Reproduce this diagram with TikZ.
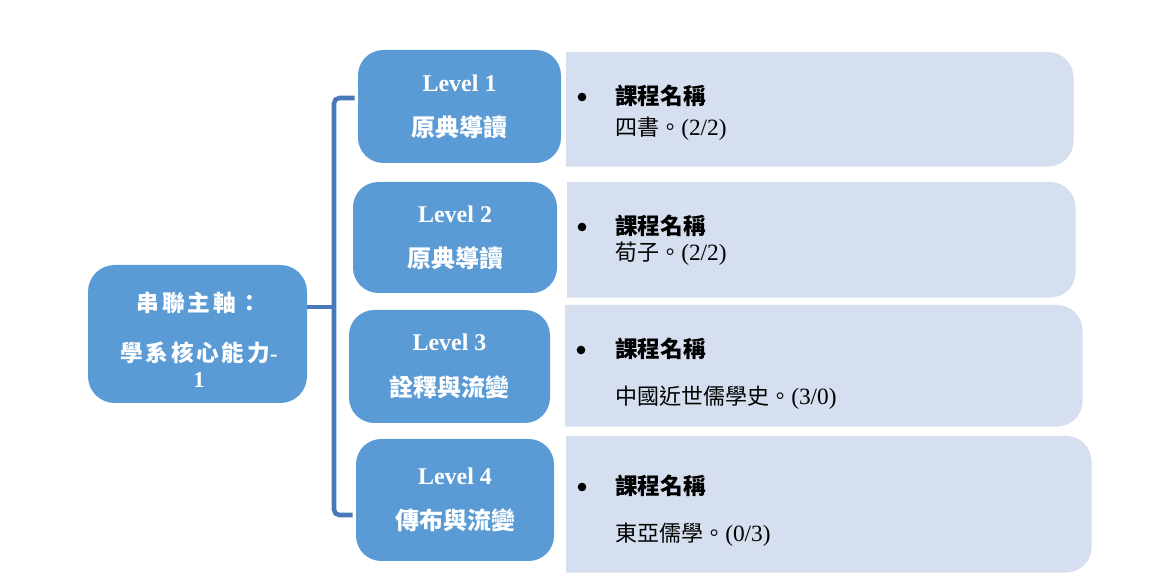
\documentclass[tikz,border=0pt]{standalone}
\usepackage{fontspec}
\setmainfont{Liberation Serif}
\newfontfamily\cjk{Noto Sans CJK TC}
\newfontfamily\cjkwide{Noto Sans CJK TC}[LetterSpace=12]
\usetikzlibrary{calc}
\definecolor{lvblue}{RGB}{91,155,213}
\definecolor{brblue}{RGB}{72,122,186}
\definecolor{cfill}{RGB}{214,223,239}
\newcommand\cj[1]{{\cjk #1}}
\newcommand\cjw[1]{{\cjkwide #1}}
\tikzset{
  lvbox/.style={fill=lvblue, rounded corners=19pt, text=white, align=center,
    font=\bfseries\fontsize{18}{22}\selectfont, inner sep=0pt},
  mainbox/.style={fill=lvblue, rounded corners=20pt, inner sep=0pt},
  maintext/.style={text=white, align=center, inner sep=0pt,
    font=\bfseries\fontsize{17}{19.5}\selectfont},
  cbox/.style={inner sep=0pt, anchor=north west},
  cshape/.style={fill=cfill},
  bul/.style={circle, fill=black, inner sep=0pt, minimum size=6.5pt},
  ctitle/.style={anchor=base west, inner sep=0pt, font=\cjk\bfseries\fontsize{17}{19}\selectfont},
  ccourse/.style={anchor=base west, inner sep=0pt, font=\fontsize{17.5}{20}\selectfont},
  brace/.style={draw=brblue, line width=3.4pt, rounded corners=4pt}
}
\newcommand\cc[1]{{\cjk\fontsize{16.5}{19}\selectfont #1}}
\newcommand\rightround[1]{%
  \fill[cshape] (#1.south west) -- (#1.north west) -- (#1.north)
    [rounded corners=19pt] -- (#1.north east) -- (#1.south east) -- (#1.south)
    [sharp corners] -- cycle;}
\begin{document}
\begin{tikzpicture}[x=0.75pt,y=-0.75pt]
\useasboundingbox (0,0) rectangle (1164,580);

% content boxes
\node[cbox, minimum width=380.25pt, minimum height=85.5pt] (C1) at (566,52) {};
\rightround{C1}
\node[cbox, minimum width=381pt, minimum height=86.25pt] (C2) at (567,182) {};
\rightround{C2}
\node[cbox, minimum width=387.75pt, minimum height=90.75pt] (C3) at (565,305) {};
\rightround{C3}
\node[cbox, minimum width=393.75pt, minimum height=102pt] (C4) at (566,436) {};
\rightround{C4}

% level boxes
\node[lvbox, minimum width=152.25pt, minimum height=84.75pt] (L1) at (459.5,106.5)
  {Level 1\\[12pt]\cj{原典導讀}};
\node[lvbox, minimum width=153pt, minimum height=83.25pt] (L2) at (455,237.5)
  {Level 2\\[12pt]\cj{原典導讀}};
\node[lvbox, minimum width=150.75pt, minimum height=84.75pt] (L3) at (449.5,366.5)
  {Level 3\\[12pt]\cj{詮釋與流變}};
\node[lvbox, minimum width=148.5pt, minimum height=91.5pt] (L4) at (455,500)
  {Level 4\\[12pt]\cj{傳布與流變}};

% main box
\node[mainbox, minimum width=164.25pt, minimum height=103.5pt] (M) at (197.5,334) {};
\node[maintext] (Mt) at (199,340) {\cjw{串聯主軸：}\\[18pt]\cjw{學系核心能力}-\\1};

% bracket
\coordinate (bt) at ($(L1.west)+(-3,-8.5)$);
\coordinate (bb) at ($(L4.west)+(-3,15)$);
\coordinate (bm) at ($(M.east)+(0,-27)$);
\coordinate (spine) at (334,307);
\draw[brace] (bt) -- (bt -| spine) -- (bb -| spine) -- (bb);
\draw[brace] (bm) -- (bm -| spine);

% content texts
\node[bul] (b1) at (582,97) {};
\node[ctitle] (t1) at (615,105) {課程名稱};
\node[ccourse] (k1) at (615,136) {\cc{四書。}(2/2)};

\node[bul] (b2) at (582,227) {};
\node[ctitle] (t2) at (615,235) {課程名稱};
\node[ccourse] (k2) at (615,261) {\cc{荀子。}(2/2)};

\node[bul] (b3) at (581,350) {};
\node[ctitle] (t3) at (615,358) {課程名稱};
\node[ccourse] (k3) at (615,405) {\cc{中國近世儒學史。}(3/0)};

\node[bul] (b4) at (582,487) {};
\node[ctitle] (t4) at (615,495) {課程名稱};
\node[ccourse] (k4) at (615,542) {\cc{東亞儒學。}(0/3)};
\end{tikzpicture}
\end{document}
